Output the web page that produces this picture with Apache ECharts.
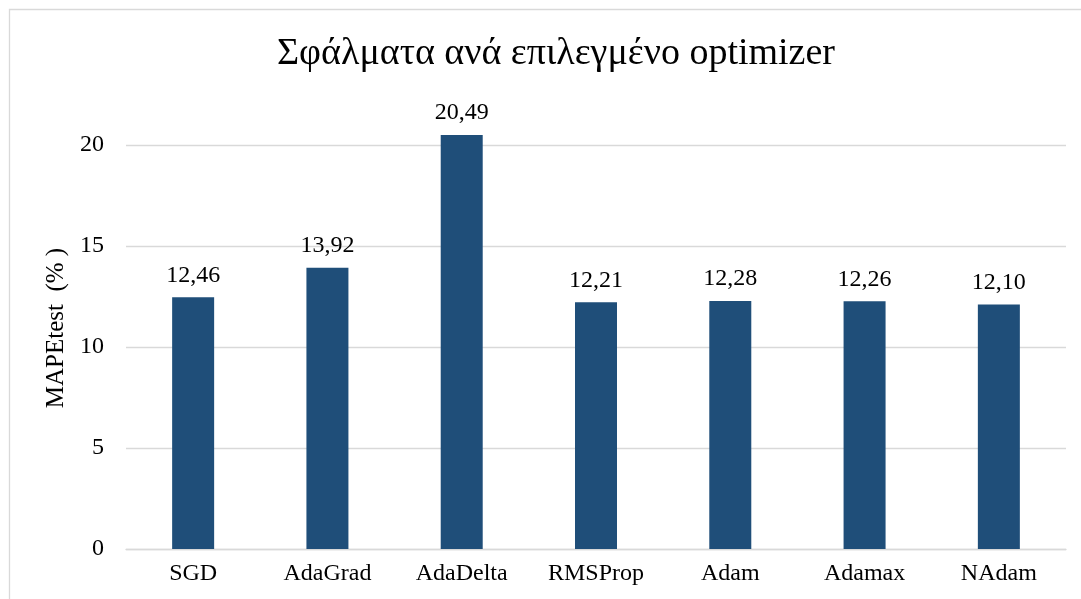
<!DOCTYPE html>
<html><head><meta charset="utf-8">
<script src="https://cdn.jsdelivr.net/npm/echarts@6/dist/echarts.min.js"></script>
<style>html,body{margin:0;padding:0;background:#fff;overflow:hidden}#c{width:1081px;height:599px}</style>
</head><body><div id="c"></div>
<script>
const categories = ['SGD','AdaGrad','AdaDelta','RMSProp','Adam','Adamax','NAdam'];
const mapeValues = [12.46, 13.92, 20.49, 12.21, 12.28, 12.26, 12.10];
const titleText = 'Σφάλματα ανά επιλεγμένο optimizer';
const yAxisName = 'MAPEtest  (% )';
const FONT = '"Liberation Serif", "DejaVu Serif", serif';
const chart = echarts.init(document.getElementById('c'));
chart.setOption({
  animation: false,
  backgroundColor: '#fff',
  title: {
    text: titleText, left: 551, top: 30, textAlign: 'center',
    textStyle: {fontFamily: FONT, fontSize: 38, fontWeight: 'normal', color: '#000'}
  },
  graphic: [{
    type: 'rect', shape: {x: 9.5, y: 9.5, width: 1300, height: 800},
    style: {fill: 'none', stroke: '#d9d9d9', lineWidth: 1.3}, silent: true
  }],
  grid: {left: 126, right: 15, top: 145, bottom: 50},
  xAxis: {
    type: 'category', data: categories,
    axisLine: {lineStyle: {color: '#d9d9d9', width: 1.3}},
    axisTick: {show: false},
    axisLabel: {fontFamily: FONT, fontSize: 24, color: '#000', margin: 13}
  },
  yAxis: {
    type: 'value', min: 0, max: 20, interval: 5,
    name: yAxisName, nameLocation: 'middle', nameGap: 54, nameRotate: 90,
    nameTextStyle: {fontFamily: FONT, fontSize: 25, color: '#000', padding: [0, 0, 0, 38]},
    axisLine: {show: false}, axisTick: {show: false},
    axisLabel: {fontFamily: FONT, fontSize: 24, color: '#000', margin: 22},
    splitLine: {lineStyle: {color: '#d9d9d9', width: 1.3}}
  },
  series: [{
    type: 'bar', data: mapeValues, barWidth: 42, clip: false,
    itemStyle: {color: '#1f4e79'},
    label: {
      show: true, position: 'top', distance: 10,
      fontFamily: FONT, fontSize: 24, color: '#000',
      formatter: p => p.value.toFixed(2).replace('.', ',')
    }
  }]
});
</script></body></html>
